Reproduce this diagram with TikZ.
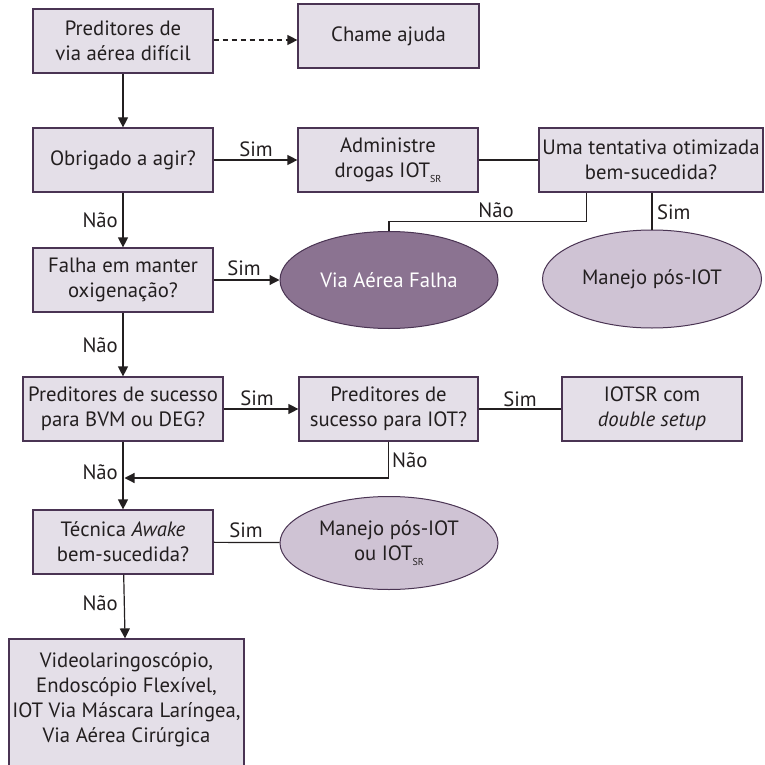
\documentclass[tikz,border=0pt]{standalone}
\usepackage{fontspec}
\setmainfont{PT Sans}
\usetikzlibrary{arrows.meta,shapes.geometric}

\definecolor{boxfill}{HTML}{E4DFE8}
\definecolor{boxline}{HTML}{4A3453}
\definecolor{darkoval}{HTML}{8B7391}
\definecolor{lightoval}{HTML}{CFC3D4}
\definecolor{ink}{HTML}{231F20}

% small lowered subscript used in "IOT_SR"
\newcommand{\lowsub}[1]{\raisebox{-0.45ex}{\fontsize{10}{10}\selectfont #1}}

\begin{document}
\begin{tikzpicture}[x=1pt,y=-1pt,
  every node/.style={font=\fontsize{20.7}{25}\selectfont, text=ink},
  stepbox/.style={draw=boxline, fill=boxfill, line width=1.2pt, rectangle,
    align=center, inner sep=0pt, minimum width=180pt, minimum height=64pt},
  darkblob/.style={ellipse, draw=boxline, fill=darkoval, line width=1pt,
    text=white, align=center, inner sep=0pt},
  lightblob/.style={ellipse, draw=boxline, fill=lightoval, line width=1pt,
    align=center, inner sep=0pt},
  link/.style={draw=ink, line width=1.2pt},
  arrowlink/.style={link, -{Triangle[length=10pt,width=10pt]}},
  lab/.style={inner sep=0pt}
]
\useasboundingbox (0,0) rectangle (764,765);

% boxes
\node[stepbox] (pred) at (123,41) {Preditores de\\via aérea difícil};
\node[stepbox, minimum width=181pt] (ajuda) at (388.5,36) {Chame ajuda};
\node[stepbox] (obrig) at (123,160) {Obrigado a agir?};
\node[stepbox] (admin) at (388,160) {Administre\\drogas IOT\lowsub{SR}};
\node[stepbox, minimum width=224pt] (uma) at (651,160) {Uma tentativa otimizada\\bem-sucedida?};
\node[stepbox] (falha) at (123,280) {Falha em manter\\oxigenação?};
\node[stepbox, minimum width=200pt] (bvm) at (123,409) {Preditores de sucesso\\para BVM ou DEG?};
\node[stepbox, minimum width=179pt] (iot) at (388.5,409) {Preditores de\\sucesso para IOT?};
\node[stepbox] (dbl) at (652,409) {IOTSR com\\\textit{double setup}};
\node[stepbox] (awake) at (123,542) {Técnica \textit{Awake}\\bem-sucedida?};
\node[stepbox, minimum width=235pt, minimum height=136pt] (alt) at (126.5,707)
  {Videolaringoscópio,\\Endoscópio Flexível,\\IOT Via Máscara Laríngea,\\Via Aérea Cirúrgica\rule[-18pt]{0pt}{0pt}};

% outcome ovals
\node[darkblob, minimum width=218pt, minimum height=97pt] (vaf) at (389,280) {Via Aérea Falha};
\node[lightblob, minimum width=219pt, minimum height=98pt] (pos) at (652,279) {Manejo pós-IOT};
\node[lightblob, minimum width=218pt, minimum height=93pt] (pos2) at (389,543) {Manejo pós-IOT\\ou IOT\lowsub{SR}};

% junction on the main column
\coordinate (merge) at (124.5,478);

% connectors
\draw[arrowlink, dash pattern=on 5pt off 4pt] (pred.east |- 0,40) -- (ajuda.west |- 0,40);
\draw[arrowlink] (pred) -- (obrig);
\draw[arrowlink] (obrig) -- (admin);
\draw[link] (admin) -- (uma);
\draw[arrowlink] (obrig) -- (falha);
\draw[arrowlink] (falha) -- (vaf);
\draw[link] (uma.south west) ++(48,0) -- ++(0,28.5) -| (vaf.north);
\draw[link] (pos.north |- uma.south) -- (pos.north);
\draw[arrowlink] (falha) -- (bvm);
\draw[arrowlink] (bvm) -- (iot);
\draw[link] (iot) -- (dbl);
\draw[arrowlink] (iot.south) |- (merge);
\draw[arrowlink] (bvm) -- (awake);
\draw[link] (awake) -- (pos2);
\draw[arrowlink] (awake) -- (alt);

% branch labels
\node[lab] (l1) at (256,149) {Sim};
\node[lab, anchor=east] (l2) at (118,220) {Não};
\node[lab] (l3) at (244,268) {Sim};
\node[lab] (l4) at (496,210) {Não};
\node[lab, anchor=west] (l5) at (657,212) {Sim};
\node[lab, anchor=east] (l6) at (118,345) {Não};
\node[lab] (l7) at (257,398) {Sim};
\node[lab] (l8) at (520,399) {Sim};
\node[lab, anchor=west] (l9) at (392,460) {Não};
\node[lab, anchor=east] (l10) at (118,472) {Não};
\node[lab] (l11) at (246,530) {Sim};
\node[lab, anchor=east] (l12) at (118,603) {Não};
\end{tikzpicture}
\end{document}
